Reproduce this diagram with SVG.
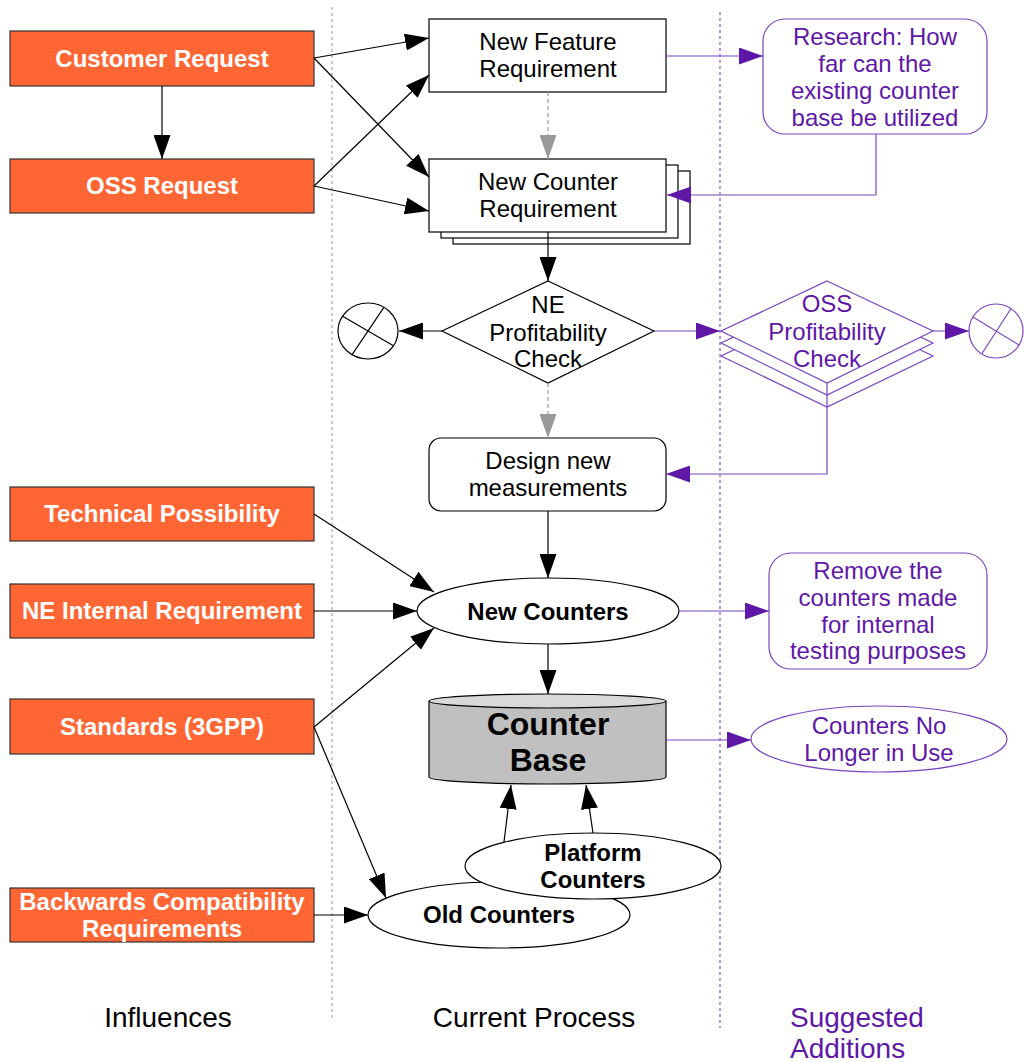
<svg xmlns="http://www.w3.org/2000/svg" width="1024" height="1062" viewBox="0 0 1024 1062">
  <style>
    text { font-family: "Liberation Sans", Arial, sans-serif; text-anchor: middle; }
    .inf rect { fill: #FF6633; stroke: #333; stroke-width: 1.2; }
    .inf text { fill: #fff; font-weight: bold; font-size: 24px; }
    .proc { fill: #fff; stroke: #000; stroke-width: 1.2; }
    .ptxt { fill: #000; font-size: 24px; }
    .btxt { fill: #000; font-size: 24px; font-weight: bold; }
    .sug { fill: #fff; stroke: #7B45BF; stroke-width: 1.2; }
    .stxt { fill: #5E17A6; font-size: 24px; }
    .blk { stroke: #000; stroke-width: 1.2; fill: none; marker-end: url(#ah); }
    .pur { stroke: #7B45BF; stroke-width: 1.2; fill: none; marker-end: url(#ahp); }
    .gry { stroke: #999; stroke-width: 1.2; fill: none; stroke-dasharray: 4 3; marker-end: url(#ahg); }
    .lane { fill: none; stroke-width: 1.2; }
    .lbl { font-size: 28px; }
  </style>
  <defs>
    <marker id="ah" markerUnits="userSpaceOnUse" markerWidth="24" markerHeight="17" refX="24" refY="8.5" orient="auto">
      <path d="M0,0 L24,8.5 L0,17 z" fill="#000"/>
    </marker>
    <marker id="ahp" markerUnits="userSpaceOnUse" markerWidth="24" markerHeight="17" refX="24" refY="8.5" orient="auto">
      <path d="M0,0 L24,8.5 L0,17 z" fill="#5E17A6"/>
    </marker>
    <marker id="ahg" markerUnits="userSpaceOnUse" markerWidth="24" markerHeight="17" refX="24" refY="8.5" orient="auto">
      <path d="M0,0 L24,8.5 L0,17 z" fill="#999"/>
    </marker>
  </defs>

  <rect width="1024" height="1062" fill="#fff"/>

  <!-- swimlane separators -->
  <g id="lanes">
    <line class="lane" x1="332" y1="7" x2="332" y2="1020" stroke="#aaa" stroke-dasharray="3 3"/>
    <line class="lane" x1="720" y1="12" x2="720" y2="1028" stroke="#8A50C8" stroke-dasharray="3 3"/>
  </g>

  <!-- influences -->
  <g id="customer-request" class="inf">
    <rect x="10" y="31" width="304" height="55"/>
    <text x="162" y="67">Customer Request</text>
  </g>
  <g id="oss-request" class="inf">
    <rect x="10" y="159" width="304" height="54"/>
    <text x="162" y="194">OSS Request</text>
  </g>
  <g id="technical-possibility" class="inf">
    <rect x="10" y="487" width="304" height="54"/>
    <text x="162" y="522">Technical Possibility</text>
  </g>
  <g id="ne-internal-requirement" class="inf">
    <rect x="10" y="584" width="304" height="54"/>
    <text x="162" y="619">NE Internal Requirement</text>
  </g>
  <g id="standards" class="inf">
    <rect x="10" y="699" width="304" height="55"/>
    <text x="162" y="735">Standards (3GPP)</text>
  </g>
  <g id="backwards-compatibility" class="inf">
    <rect x="10" y="888" width="304" height="54"/>
    <text x="162" y="910">Backwards Compatibility</text>
    <text x="162" y="937">Requirements</text>
  </g>

  <!-- current process -->
  <g id="new-feature-requirement">
    <rect class="proc" x="429" y="19" width="237" height="73"/>
    <text class="ptxt" x="548" y="50">New Feature</text>
    <text class="ptxt" x="548" y="77">Requirement</text>
  </g>
  <g id="new-counter-requirement">
    <rect class="proc" x="453" y="171" width="237" height="73"/>
    <rect class="proc" x="441" y="165" width="237" height="73"/>
    <rect class="proc" x="429" y="159" width="237" height="73"/>
    <text class="ptxt" x="548" y="190">New Counter</text>
    <text class="ptxt" x="548" y="217">Requirement</text>
  </g>
  <g id="ne-profitability-check">
    <polygon class="proc" points="548,281 654,331 548,383 442,331"/>
    <text class="ptxt" x="548" y="313">NE</text>
    <text class="ptxt" x="548" y="341">Profitability</text>
    <text class="ptxt" x="548" y="367">Check</text>
  </g>
  <g id="ne-terminate">
    <ellipse class="proc" cx="368" cy="331" rx="30" ry="28"/>
    <line x1="342.6" y1="316.2" x2="393.4" y2="345.8" stroke="#000" stroke-width="1.2"/>
    <line x1="383.9" y1="307.3" x2="352.1" y2="354.7" stroke="#000" stroke-width="1.2"/>
  </g>
  <g id="design-new-measurements">
    <rect class="proc" x="429" y="438" width="237" height="73" rx="12"/>
    <text class="ptxt" x="548" y="469">Design new</text>
    <text class="ptxt" x="548" y="496">measurements</text>
  </g>
  <g id="new-counters">
    <ellipse class="proc" cx="548" cy="611" rx="131" ry="33"/>
    <text class="btxt" x="548" y="620">New Counters</text>
  </g>
  <g id="counter-base">
    <path d="M429,701 L429,777 A118.5,7 0 0 0 666,777 L666,701" fill="#C0C0C0" stroke="#000" stroke-width="1.2"/>
    <ellipse cx="547.5" cy="701" rx="118.5" ry="7" fill="#D9D9D9" stroke="#000" stroke-width="1.2"/>
    <text x="548" y="735" style="font-size:32px;font-weight:bold" fill="#000">Counter</text>
    <text x="548" y="771" style="font-size:32px;font-weight:bold" fill="#000">Base</text>
  </g>
  <g id="old-counters">
    <ellipse class="proc" cx="499" cy="915" rx="131" ry="33"/>
    <text class="btxt" x="499" y="923">Old Counters</text>
  </g>
  <g id="platform-counters">
    <ellipse class="proc" cx="593" cy="866" rx="128" ry="33"/>
    <text class="btxt" x="593" y="861">Platform</text>
    <text class="btxt" x="593" y="888">Counters</text>
  </g>

  <!-- suggested additions -->
  <g id="research">
    <rect class="sug" x="763" y="19" width="224" height="115" rx="22"/>
    <text class="stxt" x="875" y="45">Research: How</text>
    <text class="stxt" x="875" y="72">far can the</text>
    <text class="stxt" x="875" y="99">existing counter</text>
    <text class="stxt" x="875" y="126">base be utilized</text>
  </g>
  <g id="oss-profitability-check">
    <polygon class="sug" points="827,305 933,356 827,407 721,356"/>
    <polygon class="sug" points="827,293 933,343 827,395 721,343"/>
    <polygon class="sug" points="827,281 933,331 827,383 721,331"/>
    <text class="stxt" x="827" y="312">OSS</text>
    <text class="stxt" x="827" y="340">Profitability</text>
    <text class="stxt" x="827" y="367">Check</text>
  </g>
  <g id="oss-terminate">
    <ellipse class="sug" cx="996" cy="331" rx="27" ry="27"/>
    <line x1="973" y1="317" x2="1019" y2="345" stroke="#7B45BF" stroke-width="1.2"/>
    <line x1="1011" y1="308.5" x2="982" y2="353.5" stroke="#7B45BF" stroke-width="1.2"/>
  </g>
  <g id="remove-internal-counters">
    <rect class="sug" x="769" y="553" width="218" height="116" rx="22"/>
    <text class="stxt" x="878" y="579">Remove the</text>
    <text class="stxt" x="878" y="606">counters made</text>
    <text class="stxt" x="878" y="633">for internal</text>
    <text class="stxt" x="878" y="659">testing purposes</text>
  </g>
  <g id="counters-no-longer-in-use">
    <ellipse class="sug" cx="879" cy="739" rx="128" ry="33"/>
    <text class="stxt" x="879" y="734">Counters No</text>
    <text class="stxt" x="879" y="761">Longer in Use</text>
  </g>

  <!-- connectors, drawn above the shapes so arrowheads stay visible -->
  <g id="connectors">
    <line class="blk" x1="162" y1="86" x2="162" y2="159"/>
    <line class="blk" x1="314" y1="58" x2="429" y2="38"/>
    <line class="blk" x1="314" y1="58" x2="429" y2="177"/>
    <line class="blk" x1="314" y1="186" x2="429" y2="75"/>
    <line class="blk" x1="314" y1="186" x2="429" y2="211"/>
    <line class="gry" x1="548" y1="92" x2="548" y2="159"/>
    <line class="pur" x1="666" y1="56" x2="763" y2="56"/>
    <polyline class="pur" points="876,134 876,195 667,195"/>
    <line class="blk" x1="548" y1="232" x2="548" y2="281"/>
    <line class="blk" x1="442" y1="331" x2="399" y2="331"/>
    <line class="pur" x1="654" y1="331" x2="720" y2="331"/>
    <line class="pur" x1="933" y1="331" x2="969" y2="331"/>
    <line class="gry" x1="548" y1="383" x2="548" y2="438"/>
    <polyline class="pur" points="827,383 827,474 666,474"/>
    <line class="blk" x1="548" y1="511" x2="548" y2="578"/>
    <line class="blk" x1="314" y1="514" x2="434" y2="592"/>
    <line class="blk" x1="314" y1="611" x2="417" y2="611"/>
    <line class="blk" x1="314" y1="727" x2="434" y2="628"/>
    <line class="pur" x1="678" y1="611" x2="769" y2="611"/>
    <line class="blk" x1="548" y1="644" x2="548" y2="694"/>
    <line class="pur" x1="666" y1="740" x2="751" y2="740"/>
    <line class="blk" x1="314" y1="727" x2="386" y2="898"/>
    <line class="blk" x1="314" y1="915" x2="368" y2="915"/>
    <line class="blk" x1="504" y1="842" x2="511" y2="785"/>
    <line class="blk" x1="593" y1="833" x2="586" y2="785"/>
  </g>

  <!-- lane titles -->
  <g id="lane-titles">
    <text class="lbl" x="168" y="1027" fill="#000">Influences</text>
    <text class="lbl" x="534" y="1027" fill="#000">Current Process</text>
    <text class="lbl" x="790" y="1027" fill="#5E17A6" style="text-anchor:start">Suggested</text>
    <text class="lbl" x="790" y="1058" fill="#5E17A6" style="text-anchor:start">Additions</text>
  </g>
</svg>
